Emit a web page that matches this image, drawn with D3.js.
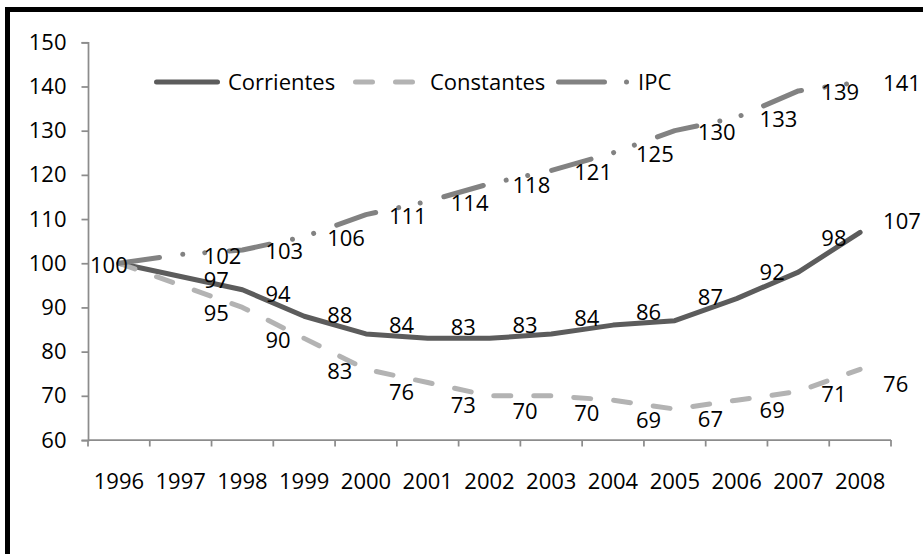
<!DOCTYPE html>
<html>
<head>
<meta charset="utf-8">
<script src="https://cdn.jsdelivr.net/npm/d3@7"></script>
<style>
  html, body { margin: 0; padding: 0; background: #ffffff; }
  svg { display: block; }
  text { font-family: "Open Sans", "Noto Sans", sans-serif; }
</style>
</head>
<body>
<svg id="chart" width="923" height="554"></svg>
<script>
// ---------- data ----------
const years = ["1996","1997","1998","1999","2000","2001","2002","2003","2004","2005","2006","2007","2008"];
const corrientes = [100, 97, 94, 88, 84, 83, 83, 84, 86, 87, 92, 98, 107];
const constantes = [100, 95, 90, 83, 76, 73, 70, 70, 69, 67, 69, 71, 76];
const ipc = [100, 102, 103, 106, 111, 114, 118, 121, 125, 130, 133, 139, 141];
const seriesNames = ["Corrientes", "Constantes", "IPC"];
const yTicks = [60, 70, 80, 90, 100, 110, 120, 130, 140, 150];

// ---------- styles ----------
const styles = {
  "Corrientes": { color: "#5c5c5c", width: 5, dash: null, labelMode: "above" },
  "Constantes": { color: "#b3b3b3", width: 5, dash: "17 23", labelMode: "below" },
  "IPC":        { color: "#828282", width: 5, dash: "41 23.5 0.01 22 0.01 24.5", labelMode: "right" }
};
const seriesData = { "Corrientes": corrientes, "Constantes": constantes, "IPC": ipc };

const svg = d3.select("#chart");
const W = 923, H = 554;
const fontSize = 22;
const axisColor = "#8c8c8c";

svg.append("rect").attr("x", 0).attr("y", 0).attr("width", W).attr("height", H).attr("fill", "#fff");

// frame (only top and left visible)
svg.append("rect")
  .attr("x", 7.5).attr("y", 9.5).attr("width", 1200).attr("height", 1200)
  .attr("fill", "none").attr("stroke", "#000").attr("stroke-width", 5);

const plot = { left: 88, right: 891, top: 42.3, bottom: 440 };

const x = d3.scaleBand().domain(years).range([plot.left, plot.right]).padding(0);
const cx = d => x(d) + x.bandwidth() / 2;
const y = d3.scaleLinear().domain([60, 150]).range([plot.bottom, plot.top]);

// ---------- axes ----------
const yAxis = d3.axisLeft(y).tickValues(yTicks).tickSize(6.5).tickPadding(15).tickFormat(d3.format("d"));
const gy = svg.append("g").attr("transform", `translate(${plot.left},0)`).call(yAxis);
gy.select(".domain").attr("stroke", axisColor).attr("stroke-width", 1.75);
gy.selectAll(".tick line").attr("stroke", axisColor).attr("stroke-width", 1.75);
gy.selectAll(".tick text").attr("font-size", fontSize).attr("fill", "#000")
  .attr("font-family", "'Open Sans', sans-serif");

// x axis: line + ticks between categories + centered labels
const gx = svg.append("g");
gx.append("line")
  .attr("x1", plot.left).attr("x2", plot.right)
  .attr("y1", plot.bottom).attr("y2", plot.bottom)
  .attr("stroke", axisColor).attr("stroke-width", 1.75);
const boundaries = years.map(d => x(d)).concat([x(years[years.length - 1]) + x.bandwidth()]);
gx.selectAll("line.tk").data(boundaries).join("line").attr("class", "tk")
  .attr("x1", d => d).attr("x2", d => d)
  .attr("y1", plot.bottom).attr("y2", plot.bottom + 6.5)
  .attr("stroke", axisColor).attr("stroke-width", 1.75);
gx.selectAll("text").data(years).join("text")
  .attr("x", d => cx(d)).attr("y", 489)
  .attr("text-anchor", "middle").attr("font-size", fontSize).attr("fill", "#000")
  .text(d => d);

// ---------- lines ----------
const lineGen = d3.line().x((d, i) => cx(years[i])).y(d => y(d));

seriesNames.forEach(name => {
  const s = styles[name];
  svg.append("path")
    .datum(seriesData[name])
    .attr("d", lineGen)
    .attr("fill", "none")
    .attr("stroke", s.color)
    .attr("stroke-width", s.width)
    .attr("stroke-linecap", "round")
    .attr("stroke-linejoin", "round")
    .attr("stroke-dasharray", s.dash);
});

// ---------- data labels ----------
const labelShift = 35; // horizontal position (relative to point) where label sits
const minGap = 24.5;   // minimum vertical distance between label centres that overlap horizontally
function lineYAt(vals, i, frac) {
  if (i >= vals.length - 1) return y(vals[i]);
  return y(vals[i]) + (y(vals[i + 1]) - y(vals[i])) * frac;
}
const gl = svg.append("g");
const placed = [];
const labelledFirst = new Set();
const labelOrder = ["IPC", "Corrientes", "Constantes"];
labelOrder.forEach(name => {
  const vals = seriesData[name];
  const s = styles[name];
  vals.forEach((v, i) => {
    const px = cx(years[i]);
    const w = String(v).length * 12.6;
    if (i === 0) {
      if (labelledFirst.has(v)) return;
      labelledFirst.add(v);
      const ly0 = y(v) + 1.5;
      placed.push({ x0: px - 10 - w / 2, x1: px - 10 + w / 2, y: ly0 });
      gl.append("text")
        .attr("x", px - 10).attr("y", ly0)
        .attr("dy", "0.36em").attr("text-anchor", "middle")
        .attr("font-size", fontSize).attr("fill", "#000").text(v);
      return;
    }
    const frac = labelShift / x.bandwidth();
    let ly;
    if (s.labelMode === "right") ly = y(v) + 1.5;
    else if (s.labelMode === "above") ly = lineYAt(vals, i, frac) - 11;
    else ly = lineYAt(vals, i, frac) + 15;
    const lx0 = px + 23, lx1 = px + 23 + w;
    // simple collision avoidance: push the label down below any overlapping one
    placed.forEach(p => {
      if (lx0 < p.x1 && lx1 > p.x0 && Math.abs(ly - p.y) < minGap) ly = p.y + minGap;
    });
    placed.push({ x0: lx0, x1: lx1, y: ly });
    gl.append("text")
      .attr("x", lx0).attr("y", ly)
      .attr("dy", "0.36em").attr("text-anchor", "start")
      .attr("font-size", fontSize).attr("fill", "#000").text(v);
  });
});

// ---------- legend ----------
const legendItems = [
  { name: "Corrientes", x0: 154, x1: 220, tx: 228, dash: null },
  { name: "Constantes", x0: 353, x1: 417, tx: 430, dash: "17 23" },
  { name: "IPC", x0: 556, x1: 631, tx: 638, dash: "46 22 0.01 200" }
];
const legendY = 82;
const lg = svg.append("g");
legendItems.forEach(it => {
  const s = styles[it.name];
  lg.append("line")
    .attr("x1", it.x0 + 2.5).attr("x2", it.x1 - 2.5)
    .attr("y1", legendY).attr("y2", legendY)
    .attr("stroke", s.color).attr("stroke-width", s.width)
    .attr("stroke-linecap", "round")
    .attr("stroke-dasharray", it.dash);
  lg.append("text")
    .attr("x", it.tx).attr("y", legendY)
    .attr("dy", "0.36em").attr("font-size", fontSize).attr("fill", "#000")
    .text(it.name);
});
</script>
</body>
</html>
